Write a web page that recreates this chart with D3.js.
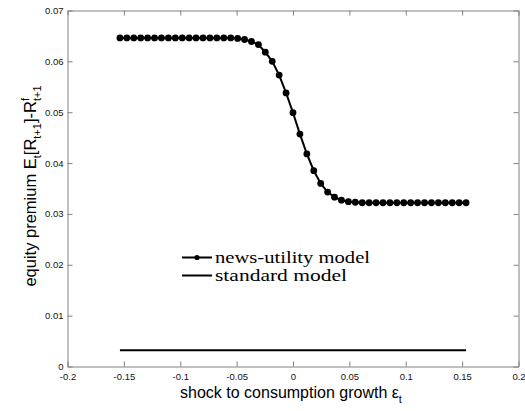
<!DOCTYPE html>
<html>
<head>
<meta charset="utf-8">
<script src="https://cdn.jsdelivr.net/npm/d3@7"></script>
<style>
  body { margin: 0; background: #fff; }
  svg { display: block; }
</style>
</head>
<body>
<div id="chart"></div>
<script>
// shock grid: 51 points from -0.1535 to 0.1535
const shockMin = -0.1535, shockMax = 0.1535, nPoints = 51;
const shocks = d3.range(nPoints).map(i => shockMin + i * (shockMax - shockMin) / (nPoints - 1));

// equity premium, news-utility model
const newsUtility = [
  0.0646, 0.0646, 0.0646, 0.0646, 0.0646, 0.0646, 0.0646, 0.0646, 0.0646, 0.0646,
  0.0646, 0.0646, 0.0646, 0.0646, 0.0646, 0.0646, 0.0646, 0.0645, 0.0643, 0.0639,
  0.0633, 0.0618, 0.0600, 0.0573, 0.0538, 0.0499, 0.0457, 0.0418, 0.0385, 0.0360,
  0.0343, 0.0333, 0.0327, 0.0324, 0.0323, 0.0322, 0.0322, 0.0322, 0.0322, 0.0322,
  0.0322, 0.0322, 0.0322, 0.0322, 0.0322, 0.0322, 0.0322, 0.0322, 0.0322, 0.0322,
  0.0322
];
// standard model: flat premium
const standard = shocks.map(() => 0.0032);

const xTicks = [-0.2, -0.15, -0.1, -0.05, 0, 0.05, 0.1, 0.15, 0.2];
const yTicks = [0, 0.01, 0.02, 0.03, 0.04, 0.05, 0.06, 0.07];
const legendLabels = ["news-utility model", "standard model"];

const width = 525, height = 411;
const plotLeft = 67.5, plotRight = 518.5, plotTop = 10.5, plotBottom = 366.5;

const svg = d3.select("#chart").append("svg")
    .attr("width", width)
    .attr("height", height);

const x = d3.scaleLinear().domain([-0.2, 0.2]).range([plotLeft, plotRight]);
const y = d3.scaleLinear().domain([0, 0.07]).range([plotBottom, plotTop]);

const fmt = d => d === 0 ? "0" : String(d);
const axisColor = "#808080";

// box-style axes with inward ticks on all four sides
const styleAxis = g => {
    g.select(".domain").attr("stroke", axisColor);
    g.selectAll(".tick line").attr("stroke", axisColor);
    g.selectAll(".tick text")
        .attr("fill", "#111")
        .style("font-family", "Arial, 'Liberation Sans', sans-serif")
        .style("font-size", "9.5px");
};

svg.append("g")
    .attr("transform", `translate(0,${plotBottom})`)
    .call(d3.axisBottom(x).tickValues(xTicks).tickFormat(fmt).tickSizeInner(-5).tickSizeOuter(0).tickPadding(7))
    .call(styleAxis);

svg.append("g")
    .attr("transform", `translate(0,${plotTop})`)
    .call(d3.axisTop(x).tickValues(xTicks).tickFormat("").tickSizeInner(-5).tickSizeOuter(0))
    .call(styleAxis);

svg.append("g")
    .attr("transform", `translate(${plotLeft},0)`)
    .call(d3.axisLeft(y).tickValues(yTicks).tickFormat(fmt).tickSizeInner(-5).tickSizeOuter(0).tickPadding(4))
    .call(styleAxis);

svg.append("g")
    .attr("transform", `translate(${plotRight},0)`)
    .call(d3.axisRight(y).tickValues(yTicks).tickFormat("").tickSizeInner(-5).tickSizeOuter(0))
    .call(styleAxis);

const line = d3.line()
    .x((d, i) => x(shocks[i]))
    .y(d => y(d));

svg.append("path")
    .datum(standard)
    .attr("fill", "none")
    .attr("stroke", "#000")
    .attr("stroke-width", 2)
    .attr("d", line);

svg.append("path")
    .datum(newsUtility)
    .attr("fill", "none")
    .attr("stroke", "#000")
    .attr("stroke-width", 2)
    .attr("d", line);

svg.selectAll("circle.dot")
    .data(newsUtility)
    .join("circle")
        .attr("class", "dot")
        .attr("cx", (d, i) => x(shocks[i]))
        .attr("cy", d => y(d))
        .attr("r", 3.4)
        .attr("fill", "#000");

// legend (LaTeX-looking serif text)
const legendWidths = [155, 132];
const legend = svg.append("g").attr("transform", "translate(182,257.5)");
legendLabels.forEach((label, i) => {
    const gy = i * 18;
    legend.append("line")
        .attr("x1", 0).attr("x2", 30)
        .attr("y1", gy).attr("y2", gy)
        .attr("stroke", "#000").attr("stroke-width", 2);
    if (i === 0) {
        legend.append("circle").attr("cx", 15).attr("cy", gy).attr("r", 2.6).attr("fill", "#000");
    }
    legend.append("text")
        .attr("x", 33).attr("y", gy + 5)
        .attr("textLength", legendWidths[i])
        .attr("lengthAdjust", "spacingAndGlyphs")
        .style("font-family", "'Liberation Serif', 'DejaVu Serif', serif")
        .style("font-size", "16px")
        .text(label);
});

// axis labels
const xLabel = svg.append("text")
    .attr("x", 291).attr("y", 398)
    .attr("text-anchor", "middle")
    .style("font-family", "Arial, 'Liberation Sans', sans-serif")
    .style("font-size", "16px");
xLabel.append("tspan").text("shock to consumption growth ε");
xLabel.append("tspan").attr("dy", 5).style("font-size", "11px").text("t");

const yLabel = svg.append("text")
    .attr("transform", `translate(36,186) rotate(-90)`)
    .attr("text-anchor", "middle")
    .style("font-family", "Arial, 'Liberation Sans', sans-serif")
    .style("font-size", "16.5px");
yLabel.append("tspan").text("equity premium E");
yLabel.append("tspan").attr("dy", 5).style("font-size", "11px").text("t");
yLabel.append("tspan").attr("dy", -5).text("[R");
yLabel.append("tspan").attr("dy", 5).style("font-size", "11px").text("t+1");
yLabel.append("tspan").attr("dy", -5).text("]-R");
yLabel.append("tspan").attr("dy", -7).style("font-size", "11px").text("f");
yLabel.append("tspan").attr("dx", -3).attr("dy", 12).style("font-size", "11px").text("t+1");
</script>
</body>
</html>
